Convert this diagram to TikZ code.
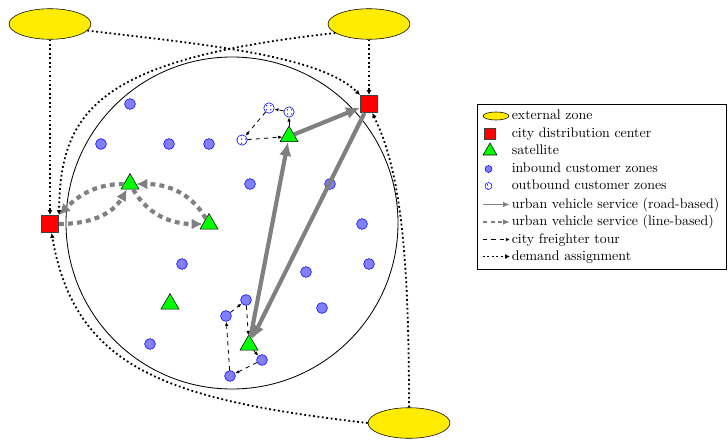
\documentclass[tikz,border=0pt]{standalone}
\usepackage{tikz}
\usetikzlibrary{arrows.meta,patterns,shapes.geometric}
\definecolor{extyellow}{RGB}{255,236,0}
\definecolor{zoneblue}{RGB}{128,128,255}
\tikzset{
	extzone/.style={ellipse, draw=black, fill=extyellow, minimum width=59pt, minimum height=22pt, inner sep=0pt},
	cdcbox/.style={rectangle, draw=black!75, fill=red, minimum size=12.6pt, inner sep=0pt},
	satnode/.style={regular polygon, regular polygon sides=3, draw=black, fill=green, minimum size=15pt, inner sep=0pt},
	inzone/.style={circle, draw=blue, fill=zoneblue, minimum size=7.8pt, inner sep=0pt},
	outzone/.style={circle, draw=blue, fill=white, postaction={pattern=dots, pattern color=blue}, minimum size=7.5pt, inner sep=0pt},
	roadarrow/.style={draw=gray, line width=3pt, -{Latex[length=10pt,width=9pt]}},
	linearrow/.style={draw=gray, line width=3pt, dash pattern=on 3.5pt off 3pt, -{Latex[length=8pt,width=8pt]}},
	tourarrow/.style={draw=black, line width=0.6pt, dashed, -{Latex[length=3pt,width=2.5pt]}},
	demandarrow/.style={draw=black, line width=1.3pt, dash pattern=on 1.3pt off 1.9pt, -{Latex[length=3.5pt,width=3.5pt]}},
	legtext/.style={anchor=west, inner sep=0pt, text height=1.5ex, text depth=.25ex}
}

\begin{document}
\begin{tikzpicture}[x=0.72pt, y=0.72pt]
	%%%%% START %%%%%
	\useasboundingbox (0, 0) rectangle (728, -439);
	
	\draw[semithick] (232, -223) circle (166);
	
	% external zones
	\node[extzone] (ez1) at (50, -24) {};
	\node[extzone] (ez2) at (369, -24) {};
	\node[extzone] (ez3) at (409, -423) {};
	
	% city distribution centers
	\node[cdcbox] (cdc1) at (369, -104) {};
	\node[cdcbox] (cdc2) at (50, -224) {};
	
	% satellites
	\node[satnode] (sat1) at (289, -136.5) {};
	\node[satnode] (sat2) at (130, -184) {};
	\node[satnode] (sat3) at (209, -224) {};
	\node[satnode] (sat4) at (170, -304) {};
	\node[satnode] (sat5) at (249, -345) {};
	
	% inbound customer zones
	\node[inzone] (z1) at (130, -104) {};
	\node[inzone] (z2) at (101, -144) {};
	\node[inzone] (z3) at (169, -144) {};
	\node[inzone] (z4) at (209, -144) {};
	\node[inzone] (z5) at (250, -184) {};
	\node[inzone] (z6) at (330, -184) {};
	\node[inzone] (z7) at (362, -224) {};
	\node[inzone] (z8) at (182, -264) {};
	\node[inzone] (z9) at (306, -272) {};
	\node[inzone] (z10) at (369, -264) {};
	\node[inzone] (z11) at (322, -308) {};
	\node[inzone] (z12) at (150, -344) {};
	\node[inzone] (z13) at (246, -300) {};
	\node[inzone] (z14) at (226, -316) {};
	\node[inzone] (z15) at (230, -376) {};
	\node[inzone] (z16) at (262, -360) {};
	
	% outbound customer zones
	\node[outzone] (o1) at (289, -112) {};
	\node[outzone] (o2) at (269, -108) {};
	\node[outzone] (o3) at (242, -140) {};
	
	% road-based
	\draw[roadarrow] (sat1) -- (cdc1);
	\draw[roadarrow] (cdc1) -- (sat5);
	\draw[roadarrow] (sat5) -- (sat1);
	
	% line-based
	\draw[linearrow] (cdc2) to[out=0, in=-120] (sat2);
	\draw[linearrow] (sat2) to[out=180, in=45] (cdc2);
	\draw[linearrow] (sat2) to[out=-60, in=180] (sat3);
	\draw[linearrow] (sat3) to[out=120, in=0] (sat2);
	
	% city freighter tours
	\draw[tourarrow] (sat1) -- (o1);
	\draw[tourarrow] (o1) -- (o2);
	\draw[tourarrow] (o2) -- (o3);
	\draw[tourarrow] (o3) -- (sat1);
	\draw[tourarrow] (sat5) -- (z16);
	\draw[tourarrow] (z16) -- (z15);
	\draw[tourarrow] (z15) -- (z14);
	\draw[tourarrow] (z14) -- (z13);
	\draw[tourarrow] (z13) -- (sat5);
	
	% demand assignment
	\draw[demandarrow] (ez1) -- (cdc2);
	\draw[demandarrow] (ez2) -- (cdc1);
	\draw[demandarrow] (ez1.-10) .. controls (200, -44) and (320, -55) .. (cdc1.north west);
	\draw[demandarrow] (ez2.195) .. controls (99, -59) and (60, -110) .. (cdc2.north east);
	\draw[demandarrow] (ez3.north) .. controls (409, -250) and (400, -170) .. (cdc1.-70);
	\draw[demandarrow] (ez3.west) .. controls (170, -400) and (75, -370) .. (cdc2.-80);
	
	% legend
	\draw[semithick] (477, -104) rectangle (726, -269);
	\node[extzone, minimum width=18.7pt, minimum height=5.8pt] (lgez) at (496, -116) {};
	\node[legtext] (lgezt) at (511.5, -116) {external zone};
	\node[cdcbox, minimum size=8pt] (lgcdc) at (490, -133.5) {};
	\node[legtext] (lgcdct) at (511.5, -133.5) {city distribution center};
	\node[satnode, minimum size=11.5pt] (lgsat) at (490, -151) {};
	\node[legtext] (lgsatt) at (511.5, -151) {satellite};
	\node[inzone, minimum size=5pt] (lgin) at (488.5, -169) {};
	\node[legtext] (lgint) at (511.5, -169) {inbound customer zones};
	\node[outzone, minimum size=5pt] (lgout) at (488.5, -186) {};
	\node[legtext] (lgoutt) at (511.5, -186) {outbound customer zones};
	\coordinate (lgra) at (483, -204.5);
	\coordinate (lgrb) at (510, -204.5);
	\draw[roadarrow, line width=1.4pt, -{Latex[length=5pt,width=4pt]}] (lgra) -- (lgrb);
	\node[legtext] (lgrt) at (511.5, -204.5) {urban vehicle service (road-based)};
	\coordinate (lgla) at (483, -222);
	\coordinate (lglb) at (510, -222);
	\draw[linearrow, line width=1.4pt, dash pattern=on 3pt off 2.5pt, -{Latex[length=5pt,width=4pt]}] (lgla) -- (lglb);
	\node[legtext] (lglt) at (511.5, -222) {urban vehicle service (line-based)};
	\coordinate (lgta) at (483, -239.5);
	\coordinate (lgtb) at (510, -239.5);
	\draw[tourarrow] (lgta) -- (lgtb);
	\node[legtext] (lgtt) at (511.5, -239.5) {city freighter tour};
	\coordinate (lgda) at (483, -256.5);
	\coordinate (lgdb) at (510, -256.5);
	\draw[demandarrow] (lgda) -- (lgdb);
	\node[legtext] (lgdt) at (511.5, -256.5) {demand assignment};
	
	%%%%% END %%%%%
\end{tikzpicture}
\end{document}
